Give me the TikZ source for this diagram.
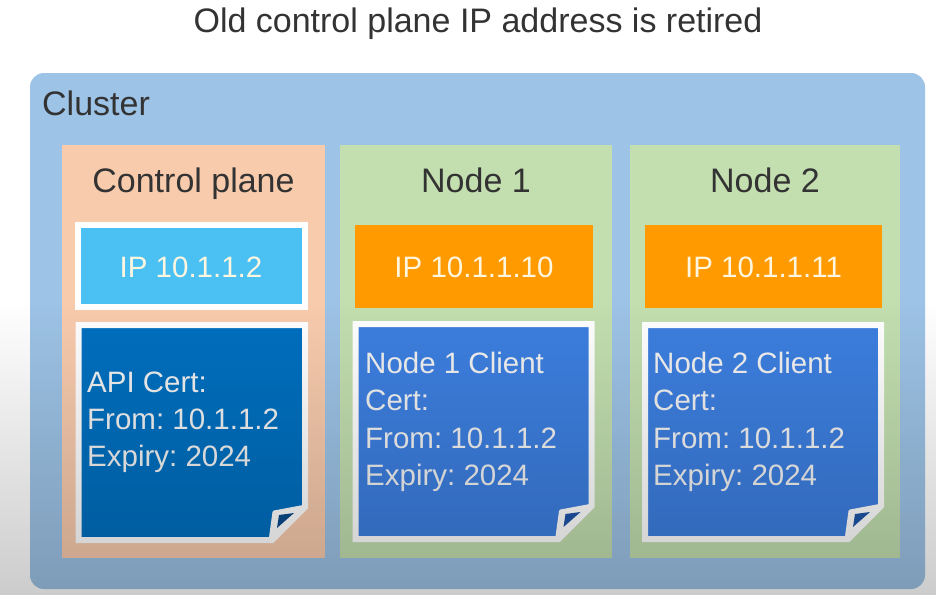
\documentclass[tikz,border=0pt]{standalone}
\usepackage{fontspec}
\setmainfont{Liberation Sans}
\usetikzlibrary{fadings}
\frenchspacing
\definecolor{clusterblue}{HTML}{9DC3E6}
\definecolor{cporange}{HTML}{F8CBAD}
\definecolor{nodegreen}{HTML}{C3DFB0}
\definecolor{ipblue}{HTML}{4BC0F2}
\definecolor{iporange}{HTML}{FF9A00}
\definecolor{certdark}{HTML}{0070C0}
\definecolor{certblue}{HTML}{3D7FE0}
\definecolor{flapdark}{HTML}{0B4A8C}
\definecolor{flapblue}{HTML}{1F55A8}
\definecolor{headtext}{HTML}{333333}
\definecolor{iptext}{HTML}{FFF6E0}
\definecolor{certtext}{HTML}{F2F2F2}
\tikzfading[name=vignette, top color=transparent!100, bottom color=transparent!80]
\begin{document}
\begin{tikzpicture}[x=1pt,y=-1pt,
  heading/.style={font=\fontsize{34}{40}\selectfont, text=headtext, inner sep=0pt, anchor=base},
  iplabel/.style={font=\fontsize{29.5}{34}\selectfont, text=iptext, inner sep=0pt, anchor=base},
  certline/.style={font=\fontsize{29.5}{34}\selectfont, text=certtext, inner sep=0pt, anchor=base west},
  certpage/.style={line width=6pt, draw=white, line join=miter},
  flapback/.style={fill=white, draw=white, line width=3pt, line join=round},
]
\useasboundingbox (0,0) rectangle (937,595);
\fill[white] (0,0) rectangle (937,595);

% title
\node[heading] (title) at (478,32) {Old control plane IP address is retired};

% cluster
\fill[clusterblue, rounded corners=14pt] (30,73) rectangle (925,589);
\node[heading, anchor=base west] (cluster) at (42,115) {Cluster};

% column boxes
\fill[cporange] (62,145) rectangle (325,558);
\fill[nodegreen] (340,145) rectangle (612,558);
\fill[nodegreen] (630,145) rectangle (900,558);

\node[heading] (cphead) at (193.5,192) {Control plane};
\node[heading] (n1head) at (476,192) {Node 1};
\node[heading] (n2head) at (765,192) {Node 2};

% IP boxes
\filldraw[fill=ipblue, draw=white, line width=6pt] (77.5,225) rectangle (305,307);
\fill[iporange] (355,225) rectangle (593,308);
\fill[iporange] (645,225) rectangle (882,308);

\node[iplabel] (cpip) at (191,277) {IP 10.1.1.2};
\node[iplabel] (n1ip) at (474,277) {IP 10.1.1.10};
\node[iplabel] (n2ip) at (763.5,277) {IP 10.1.1.11};

% certificates
\filldraw[certpage, fill=certdark] (78.5,325) -- (305,325) -- (305,507) -- (272,540) -- (78.5,540) -- cycle;
\filldraw[flapback] (270,541) -- (306,506) -- (274,512) -- cycle;
\fill[flapdark] (279,515) -- (294,513) -- (277,528) -- cycle;

\filldraw[certpage, fill=certblue] (355.5,324) -- (591.5,324) -- (591.5,506) -- (558.5,539) -- (355.5,539) -- cycle;
\filldraw[flapback] (556.5,540) -- (592.5,505) -- (560.5,511) -- cycle;
\fill[flapblue] (565.5,514) -- (580.5,512) -- (563.5,527) -- cycle;

\filldraw[certpage, fill=certblue] (645,325) -- (881,325) -- (881,506) -- (848,539) -- (645,539) -- cycle;
\filldraw[flapback] (846,540) -- (882,505) -- (850,511) -- cycle;
\fill[flapblue] (855,514) -- (870,512) -- (853,527) -- cycle;

\node[certline] (cpc1) at (87,392) {API Cert:};
\node[certline] (cpc2) at (87,429) {From: 10.1.1.2};
\node[certline] (cpc3) at (87,466) {Expiry: 2024};

\node[certline] (n1c1) at (365,373) {Node 1 Client};
\node[certline] (n1c2) at (365,410.5) {Cert:};
\node[certline] (n1c3) at (365,448) {From: 10.1.1.2};
\node[certline] (n1c4) at (365,485) {Expiry: 2024};

\node[certline] (n2c1) at (653,373) {Node 2 Client};
\node[certline] (n2c2) at (653,410.5) {Cert:};
\node[certline] (n2c3) at (653,448) {From: 10.1.1.2};
\node[certline] (n2c4) at (653,485) {Expiry: 2024};

% vignette of the original screenshot
\fill[black, path fading=vignette] (0,300) rectangle (937,595);
\end{tikzpicture}
\end{document}
